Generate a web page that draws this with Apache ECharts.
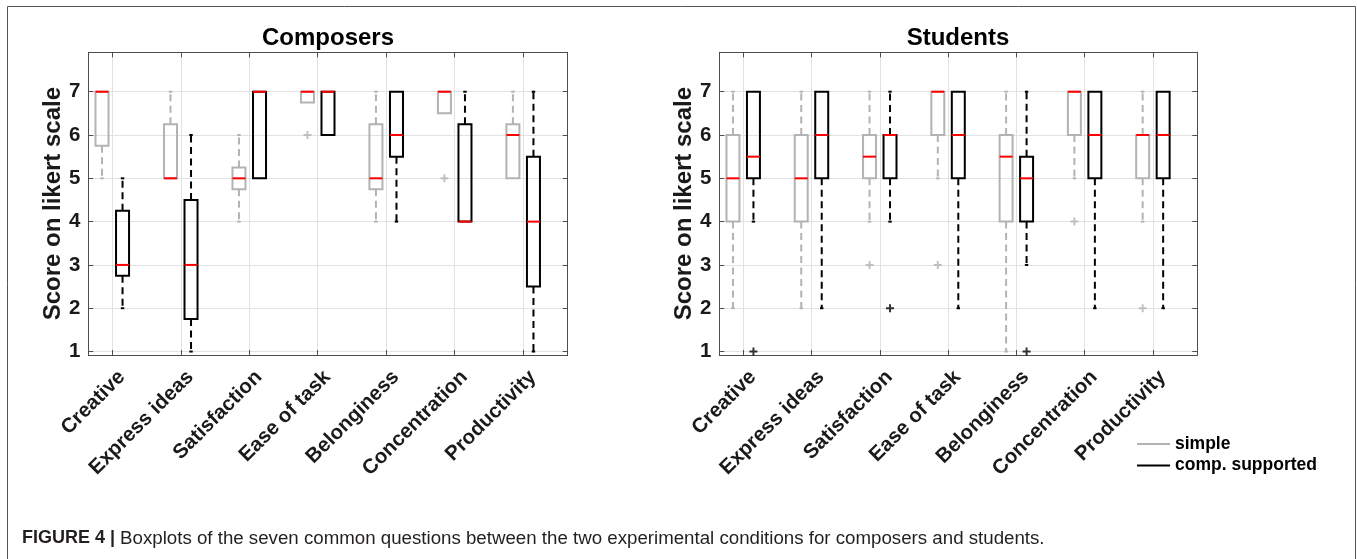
<!DOCTYPE html>
<html>
<head>
<meta charset="utf-8">
<script src="https://cdn.jsdelivr.net/npm/echarts@6/dist/echarts.min.js"></script>
<style>
html,body{margin:0;padding:0;background:#fff;}
#chart{width:1357px;height:559px;}
</style>
</head>
<body>
<div id="chart"></div>
<script>
// ---------- data ----------
const categories = ['Creative', 'Express ideas', 'Satisfaction', 'Ease of task', 'Belonginess', 'Concentration', 'Productivity'];
const yTicks = [1, 2, 3, 4, 5, 6, 7];
const panelTitles = ['Composers', 'Students'];
const conditionNames = ['simple', 'comp. supported'];
// each entry: [lower whisker, Q1, median, Q3, upper whisker]
const composersSimple = [[5, 5.75, 7, 7, 7], [5, 5, 5, 6.25, 7], [4, 4.75, 5, 5.25, 6], [6.75, 6.75, 7, 7, 7], [4, 4.75, 5, 6.25, 7], [6.5, 6.5, 7, 7, 7], [5, 5, 6, 6.25, 7]];
const composersComp = [[2, 2.75, 3, 4.25, 5], [1, 1.75, 3, 4.5, 6], [5, 5, 7, 7, 7], [6, 6, 7, 7, 7], [4, 5.5, 6, 7, 7], [4, 4, 4, 6.25, 7], [1, 2.5, 4, 5.5, 7]];
const studentsSimple = [[2, 4, 5, 6, 7], [2, 4, 5, 6, 7], [4, 5, 5.5, 6, 7], [5, 6, 7, 7, 7], [1, 4, 5.5, 6, 7], [5, 6, 7, 7, 7], [4, 5, 6, 6, 7]];
const studentsComp = [[4, 5, 5.5, 7, 7], [2, 5, 6, 7, 7], [4, 5, 6, 6, 7], [2, 5, 6, 7, 7], [3, 4, 5, 5.5, 7], [2, 5, 6, 7, 7], [2, 5, 6, 7, 7]];
// outliers: [category index, value]
const composersSimpleOutliers = [[3, 6], [5, 5]];
const composersCompOutliers = [];
const studentsSimpleOutliers = [[2, 3], [3, 3], [5, 4], [6, 2]];
const studentsCompOutliers = [[0, 1], [2, 2], [4, 1]];

// ---------- styling ----------
const GRAY = '#b3b3b3';
const BLACK = '#000000';
const RED = '#ff0000';
const AXIS = '#4d4d4d';
const FONT = '"Liberation Sans", Arial, Helvetica, sans-serif';
const X_MIN = 0.65, X_MAX = 7.65, Y_MIN = 0.92, Y_MAX = 7.91;
const OFFSET = 0.15;
const xTickVals = categories.map((c, i) => i + 1);
const xLabelVals = categories.map((c, i) => i + 1.14);

const grids = [
  { left: 88.3, top: 52.3, width: 479.4, height: 302.7 },
  { left: 719.3, top: 52.3, width: 478, height: 302.7 }
];

function makeRender(color, lw) {
  return function (params, api) {
    const x = api.value(0);
    const lo = api.value(1), q1 = api.value(2), med = api.value(3), q3 = api.value(4), hi = api.value(5);
    const half = api.size([0.19, 0])[0] / 2;
    const cap = api.size([0.05, 0])[0] / 2;
    const pLo = api.coord([x, lo]), pQ1 = api.coord([x, q1]), pMed = api.coord([x, med]);
    const pQ3 = api.coord([x, q3]), pHi = api.coord([x, hi]);
    const cx = pQ1[0];
    const children = [];
    const dash = { stroke: color, lineWidth: lw, lineDash: [7, 4.5], fill: null };
    const solid = { stroke: color, lineWidth: lw, fill: null };
    if (hi > q3) {
      children.push({ type: 'line', shape: { x1: cx, y1: pQ3[1], x2: cx, y2: pHi[1] }, style: dash });
      children.push({ type: 'line', shape: { x1: cx - cap, y1: pHi[1], x2: cx + cap, y2: pHi[1] }, style: solid });
    }
    if (lo < q1) {
      children.push({ type: 'line', shape: { x1: cx, y1: pQ1[1], x2: cx, y2: pLo[1] }, style: dash });
      children.push({ type: 'line', shape: { x1: cx - cap, y1: pLo[1], x2: cx + cap, y2: pLo[1] }, style: solid });
    }
    children.push({ type: 'rect', shape: { x: cx - half, y: pQ3[1], width: 2 * half, height: pQ1[1] - pQ3[1] }, style: solid });
    children.push({ type: 'line', shape: { x1: cx - half, y1: pMed[1], x2: cx + half, y2: pMed[1] }, style: { stroke: RED, lineWidth: 2 } });
    return { type: 'group', children: children };
  };
}

function boxData(stats, offset) {
  return stats.map((s, i) => [i + 1 + offset].concat(s));
}
function outlierData(list, offset) {
  return list.map(o => [o[0] + 1 + offset, o[1]]);
}

const xAxes = [], yAxes = [];
grids.forEach((g, gi) => {
  xAxes.push({
    type: 'value', gridIndex: gi, position: 'bottom', min: X_MIN, max: X_MAX,
    axisLine: { show: true, onZero: false, lineStyle: { color: AXIS, width: 1 } },
    axisTick: { show: true, inside: true, length: 5, customValues: xTickVals, lineStyle: { color: AXIS } },
    splitLine: { show: true, lineStyle: { color: '#e2e2e2', width: 1 } },
    axisLabel: {
      customValues: xLabelVals, rotate: 45, margin: 19,
      fontSize: 20.5, fontWeight: 'bold', fontFamily: FONT, color: '#1a1a1a',
      formatter: v => categories[Math.round(v) - 1]
    }
  });
  xAxes.push({
    type: 'value', gridIndex: gi, position: 'top', min: X_MIN, max: X_MAX,
    axisLine: { show: true, onZero: false, lineStyle: { color: AXIS, width: 1 } },
    axisTick: { show: true, inside: true, length: 5, customValues: xTickVals, lineStyle: { color: AXIS } },
    splitLine: { show: false }, axisLabel: { show: false }
  });
  yAxes.push({
    type: 'value', gridIndex: gi, position: 'left', min: Y_MIN, max: Y_MAX,
    name: 'Score on likert scale', nameLocation: 'middle', nameGap: 21,
    nameTextStyle: { fontSize: 24, fontWeight: 'bold', fontFamily: FONT, color: '#1a1a1a' },
    axisLine: { show: true, onZero: false, lineStyle: { color: AXIS, width: 1 } },
    axisTick: { show: true, inside: true, length: 5, customValues: yTicks, lineStyle: { color: AXIS } },
    splitLine: { show: true, lineStyle: { color: '#e2e2e2', width: 1 } },
    axisLabel: { customValues: yTicks, margin: 8, fontSize: 20.5, fontWeight: 'bold', fontFamily: FONT, color: '#1a1a1a' }
  });
  yAxes.push({
    type: 'value', gridIndex: gi, position: 'right', min: Y_MIN, max: Y_MAX,
    axisLine: { show: true, onZero: false, lineStyle: { color: AXIS, width: 1 } },
    axisTick: { show: true, inside: true, length: 5, customValues: yTicks, lineStyle: { color: AXIS } },
    splitLine: { show: false }, axisLabel: { show: false }
  });
});

const panels = [
  { simple: composersSimple, comp: composersComp, so: composersSimpleOutliers, co: composersCompOutliers },
  { simple: studentsSimple, comp: studentsComp, so: studentsSimpleOutliers, co: studentsCompOutliers }
];
const plusPath = 'path://M0,3H8V5H0Z M3,0H5V8H3Z';
const series = [];
panels.forEach((p, pi) => {
  const xi = pi * 2, yi = pi * 2;
  series.push({
    type: 'custom', name: conditionNames[0], xAxisIndex: xi, yAxisIndex: yi,
    itemStyle: { color: GRAY }, renderItem: makeRender(GRAY, 2),
    encode: { x: 0, y: [1, 2, 3, 4, 5] }, data: boxData(p.simple, -OFFSET), z: 3
  });
  series.push({
    type: 'custom', name: conditionNames[1], xAxisIndex: xi, yAxisIndex: yi,
    itemStyle: { color: BLACK }, renderItem: makeRender(BLACK, 2),
    encode: { x: 0, y: [1, 2, 3, 4, 5] }, data: boxData(p.comp, OFFSET), z: 3
  });
  series.push({
    type: 'scatter', xAxisIndex: xi, yAxisIndex: yi, symbol: plusPath, symbolSize: 8,
    itemStyle: { color: GRAY }, data: outlierData(p.so, -OFFSET), z: 4, silent: true
  });
  series.push({
    type: 'scatter', xAxisIndex: xi, yAxisIndex: yi, symbol: plusPath, symbolSize: 8,
    itemStyle: { color: BLACK }, data: outlierData(p.co, OFFSET), z: 4, silent: true
  });
});

const option = {
  animation: false,
  backgroundColor: '#ffffff',
  textStyle: { fontFamily: FONT },
  title: [
    { text: panelTitles[0], left: 323, top: 21, textAlign: 'center', textStyle: { fontSize: 24, fontWeight: 'bold', fontFamily: FONT, color: '#000' } },
    { text: panelTitles[1], left: 953, top: 21, textAlign: 'center', textStyle: { fontSize: 24, fontWeight: 'bold', fontFamily: FONT, color: '#000' } },
    {
      text: '{b|FIGURE 4 |} {n|Boxplots of the seven common questions between the two experimental conditions for composers and students.}',
      left: 17, top: 524,
      textStyle: { rich: { b: { fontSize: 18, fontWeight: 'bold', fontFamily: FONT, color: '#231f20' }, n: { fontSize: 18.7, fontWeight: 'normal', fontFamily: FONT, color: '#231f20' } } }
    }
  ],
  legend: {
    orient: 'vertical', left: 1132, top: 430, itemWidth: 33, itemHeight: 2, itemGap: 3.5,
    textStyle: { fontSize: 17.5, fontWeight: 'bold', fontFamily: FONT, color: '#000' },
    data: [
      { name: conditionNames[0], icon: 'rect', itemStyle: { color: GRAY } },
      { name: conditionNames[1], icon: 'rect', itemStyle: { color: BLACK } }
    ]
  },
  grid: grids,
  xAxis: xAxes,
  yAxis: yAxes,
  series: series,
  graphic: [
    { type: 'rect', shape: { x: 7.5, y: 6.5, width: 1348, height: 620 }, style: { fill: null, stroke: '#555', lineWidth: 1 }, silent: true, z: -1 }
  ]
};

const chart = echarts.init(document.getElementById('chart'), null, { renderer: 'canvas' });
chart.setOption(option);
</script>
</body>
</html>
